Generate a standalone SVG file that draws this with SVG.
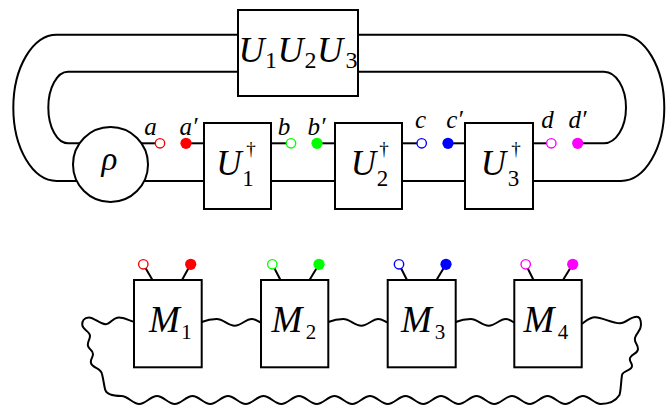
<svg xmlns="http://www.w3.org/2000/svg" width="672" height="407" viewBox="0 0 672 407">
<style>
.w{fill:none;stroke:#000;stroke-width:2;stroke-linecap:butt}
.box{fill:#fff;stroke:#000;stroke-width:2}
.t{font-family:"Liberation Serif","DejaVu Serif",serif;font-style:italic;fill:#000}
.n{font-style:normal}
.h{fill:#fff;stroke-width:1.4}
.red{stroke:#ff0000}.grn{stroke:#00ff00}.blu{stroke:#0000ff}.mag{stroke:#ff00ff}
.fr{fill:#ff0000}.fg{fill:#00ff00}.fb{fill:#0000ff}.fm{fill:#ff00ff}
</style>
<g id="connectors">
<path class="w" d="M238 34.7H56.7A43.4 73.15 0 0 0 56.7 181H85"/>
<path class="w" d="M238 71.7H68A19.7 35.8 0 0 0 68 143.3H88"/>
<path class="w" d="M135 143.3H160"/>
<path class="w" d="M186 143.3H204"/>
<path class="w" d="M138 181H204"/>
<path class="w" d="M271 143.3H291"/>
<path class="w" d="M317 143.3H335"/>
<path class="w" d="M271 181H335"/>
<path class="w" d="M402 143.3H421.7"/>
<path class="w" d="M448 143.3H465"/>
<path class="w" d="M402 181H465"/>
<path class="w" d="M533 143.3H551.3"/>
<path class="w" d="M577.7 143.3H604A22 35.8 0 0 0 604 71.7H358"/>
<path class="w" d="M533 181H621A43.3 73.15 0 0 0 621 34.7H358"/>
<path class="w" d="M152.5 280L143.3 264.3M182 280L190.7 264.3"/>
<path class="w" d="M280.5 280L272.3 264.3M309.5 280L319 264.3"/>
<path class="w" d="M407 280L399 264.3M436.5 280L446 264.3"/>
<path class="w" d="M533.5 280L525.7 264.3M563 280L572.7 264.3"/>
<path class="w" d="M201.7 322C206.7 320 211.7 319 216.7 319C223.2 319 228.2 325.7 234.7 325.7C241.2 325.7 245.7 319 251.7 319C255.7 319 258 321.5 261 322.5"/>
<path class="w" d="M328.3 322C333.3 320 338.3 319 343.3 319C349.8 319 354.8 325.7 361.3 325.7C367.8 325.7 372.3 319 378.3 319C382.3 319 384.7 321.5 387.7 322.5"/>
<path class="w" d="M455.7 322C460.7 320 465.7 319 470.7 319C477.2 319 482.2 325.7 488.7 325.7C495.2 325.7 499.7 319 505.7 319C509.7 319 511.3 321.5 514.3 322.5"/>
<path class="w" d="M134 321.7C129 320.5 124 317.5 119 317.5C113 317.5 110 324.2 105.5 324.2C100 324.2 94 317.5 89 317.5C84 317.5 82 321 82.3 325C82.6 330 90 331 90 336C90 340 87 342 88 346C89 350 93 350 93 354C93 358 90 359 91 363C92 368 101 368 102 374C103.5 380 104 385 105 389C106 394 112 396 121.5 396C128 396 132.75 404 139.25 404S150.5 396 157 396S168.25 404 174.75 404S186 396 192.5 396S203.75 404 210.25 404S221.5 396 228 396S239.25 404 245.75 404S257 396 263.5 396S274.75 404 281.25 404S292.5 396 299 396S310.25 404 316.75 404S328 396 334.5 396S345.75 404 352.25 404S363.5 396 370 396S381.25 404 387.75 404S399 396 405.5 396S416.75 404 423.25 404S434.5 396 441 396S452.25 404 458.75 404S470 396 476.5 396S487.75 404 494.25 404S505.5 396 512 396S523.25 404 529.75 404S541 396 547.5 396S558.75 404 565.25 404S576.5 396 583 396S594.25 404 600.75 404C607 404 615 402 619.5 395C621 390 621 381 622 375C623 370 632 371 632 366C632 362 629 362 630 358C631 354 638 354 638 349C638 344 634 343 635 338C636 333 641 331 641 325C641 319 639 316.7 636.7 316.7C630 316.7 626 323.3 620 323.3C612 323.3 602 317.3 595 317.3C589 317.3 585 322 581.7 324"/>
</g>
<g id="U1U2U3">
<rect class="box" x="238" y="10" width="120" height="86"/>
<text class="t" font-size="36" text-anchor="middle"><tspan x="251.5" y="61.7">U</tspan><tspan class="n" font-size="24" x="271" y="68">1</tspan><tspan x="290.6" y="61.7">U</tspan><tspan class="n" font-size="24" x="310.5" y="68">2</tspan><tspan x="330" y="61.7">U</tspan><tspan class="n" font-size="24" x="351.5" y="68">3</tspan></text>
</g>
<g id="rho">
<circle cx="110.5" cy="164.5" r="37.5" class="box"/>
<text class="t" font-size="33" x="109.5" y="170" text-anchor="middle">ρ</text>
</g>
<g id="U1dag">
<rect class="box" x="204" y="123" width="67" height="86"/>
<text class="t" font-size="35" text-anchor="middle"><tspan x="229" y="174.5">U</tspan><tspan class="n" font-size="19" x="251" y="154.5">†</tspan><tspan class="n" font-size="23" x="248" y="185.5">1</tspan></text>
</g>
<g id="U2dag">
<rect class="box" x="335" y="123" width="67" height="86"/>
<text class="t" font-size="35" text-anchor="middle"><tspan x="363.5" y="174.5">U</tspan><tspan class="n" font-size="19" x="384" y="154.5">†</tspan><tspan class="n" font-size="23" x="382.5" y="185.5">2</tspan></text>
</g>
<g id="U3dag">
<rect class="box" x="465" y="123" width="68" height="86"/>
<text class="t" font-size="35" text-anchor="middle"><tspan x="493.5" y="174.5">U</tspan><tspan class="n" font-size="19" x="516" y="154.5">†</tspan><tspan class="n" font-size="23" x="513.5" y="185.5">3</tspan></text>
</g>
<g id="port-a"><circle class="h red" cx="160" cy="143.3" r="4.7"/><text class="t" font-size="25" x="150.5" y="134.5" text-anchor="middle">a</text></g>
<g id="port-a2"><circle class="fr" cx="186" cy="143.3" r="5.6"/><text class="t" font-size="25" x="188.5" y="134.5" text-anchor="middle">a′</text></g>
<g id="port-b"><circle class="h grn" cx="291" cy="143.3" r="4.7"/><text class="t" font-size="25" x="284" y="134.5" text-anchor="middle">b</text></g>
<g id="port-b2"><circle class="fg" cx="317" cy="143.3" r="5.6"/><text class="t" font-size="25" x="316.5" y="134.5" text-anchor="middle">b′</text></g>
<g id="port-c"><circle class="h blu" cx="421.7" cy="143.3" r="4.7"/><text class="t" font-size="25" x="420.5" y="128.3" text-anchor="middle">c</text></g>
<g id="port-c2"><circle class="fb" cx="448" cy="143.3" r="5.6"/><text class="t" font-size="25" x="454.5" y="128.3" text-anchor="middle">c′</text></g>
<g id="port-d"><circle class="h mag" cx="551.3" cy="143.3" r="4.7"/><text class="t" font-size="25" x="547.5" y="128.3" text-anchor="middle">d</text></g>
<g id="port-d2"><circle class="fm" cx="577.7" cy="143.3" r="5.6"/><text class="t" font-size="25" x="577.5" y="128.3" text-anchor="middle">d′</text></g>
<g id="M1">
<rect class="box" x="134" y="280" width="67.7" height="87.3"/>
<circle class="h red" cx="143.3" cy="264.3" r="4.7"/><circle class="fr" cx="190.7" cy="264.3" r="5.6"/>
<text class="t" font-size="37" text-anchor="middle"><tspan x="164.5" y="332">M</tspan><tspan class="n" font-size="21" x="186.5" y="338.5">1</tspan></text>
</g>
<g id="M2">
<rect class="box" x="261" y="280" width="67.3" height="87.3"/>
<circle class="h grn" cx="272.3" cy="264.3" r="4.7"/><circle class="fg" cx="319" cy="264.3" r="5.6"/>
<text class="t" font-size="37" text-anchor="middle"><tspan x="287" y="332">M</tspan><tspan class="n" font-size="21" x="311" y="338.5">2</tspan></text>
</g>
<g id="M3">
<rect class="box" x="387.7" y="280" width="68" height="87.3"/>
<circle class="h blu" cx="399" cy="264.3" r="4.7"/><circle class="fb" cx="446" cy="264.3" r="5.6"/>
<text class="t" font-size="37" text-anchor="middle"><tspan x="416.5" y="332">M</tspan><tspan class="n" font-size="21" x="440" y="338.5">3</tspan></text>
</g>
<g id="M4">
<rect class="box" x="514.3" y="280" width="67.4" height="87.3"/>
<circle class="h mag" cx="525.7" cy="264.3" r="4.7"/><circle class="fm" cx="572.7" cy="264.3" r="5.6"/>
<text class="t" font-size="37" text-anchor="middle"><tspan x="539" y="332">M</tspan><tspan class="n" font-size="21" x="563" y="338.5">4</tspan></text>
</g>
</svg>
